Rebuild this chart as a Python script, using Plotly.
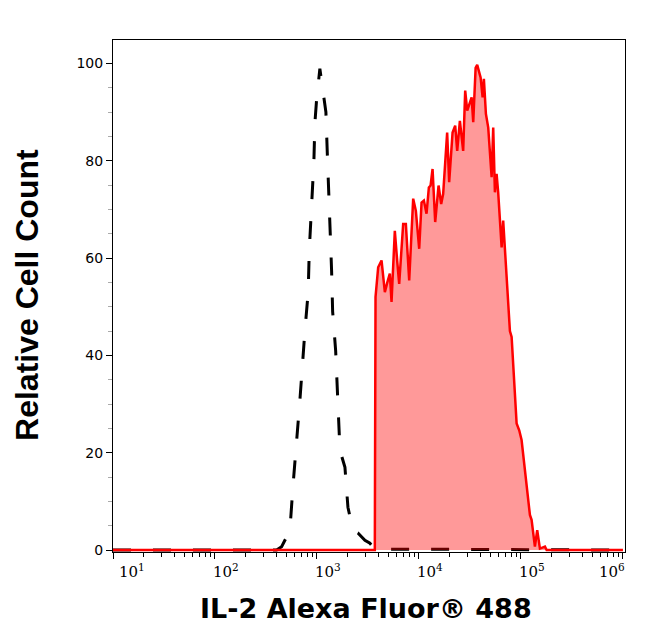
import math
import plotly.graph_objects as go

# Isotype control (black dashed) histogram
iso_x = [10, 402, 450, 542, 581, 631, 680, 761, 820, 840, 919, 933, 953, 991,
         1067, 1151, 1223, 1260, 1308, 1340, 1391, 1424, 1524, 1616, 1679,
         1880, 2011, 2251, 2518, 2951, 3305, 3700, 1000000]
iso_y = [0, 0, 0.7, 4, 13, 22, 30.8, 45, 53, 61.5, 76, 80, 87.6, 92.5,
         98.9, 93.7, 90, 82, 74, 65.6, 57.4, 49, 41, 28.7, 20.5,
         17, 8.8, 4, 3.5, 2, 1.4, 0.2, 0]

# IL-2 stained (red filled) histogram
il2_x = [10, 3690, 3750, 3981, 4295, 4628, 4895, 5178, 5383, 5797, 6109, 6397,
         7000, 7437, 8017, 8775, 9322, 10050, 10600, 11170, 11860, 12500,
         13000, 13590, 14420, 15560, 16510, 17270, 18890, 19770, 21350, 22650,
         23700, 25180, 27120, 28390, 29720, 32820, 34040, 35920, 37230, 40200,
         42080, 43290, 45320, 47750, 51550, 53450, 55510, 57670, 59800, 64620,
         66940, 72330, 77930, 80980, 90640, 96140, 101400, 122400, 127100,
         137000, 144300, 153400, 171800, 178600, 1000000]
il2_y = [0, 0, 52, 58.1, 59.5, 53, 55, 56.8, 51, 65.6, 59.5, 54.7,
         67, 67, 55.4, 72.2, 69.7, 61.9, 71.4, 71.8, 69.1, 74.5,
         74.9, 78.3, 67.4, 74.9, 71.1, 73.2, 85.8, 75.6, 85.8, 87.2,
         82, 88.2, 82, 94.4, 90.3, 93, 87.9, 99.1, 99.7, 97.1,
         93, 96.8, 89.6, 86.8, 76.6, 86.8, 73.5, 77.3, 73.5, 62.2,
         67.7, 56.1, 45, 43.8, 26, 24.6, 22.6, 7.2, 6.2,
         0.7, 4.1, 0.3, 0.7, 0, 0]

x_tick_vals = [10, 100, 1000, 10000, 100000, 1000000]
x_tick_text = ["10<sup>1</sup>", "10<sup>2</sup>", "10<sup>3</sup>",
               "10<sup>4</sup>", "10<sup>5</sup>", "10<sup>6</sup>"]
y_tick_vals = [0, 20, 40, 60, 80, 100]
y_tick_text = ["0", "20", "40", "60", "80", "100"]

x_title = "IL-2 Alexa Fluor® 488"
y_title = "Relative Cell Count"

fig = go.Figure()
fig.add_trace(go.Scatter(
    x=iso_x, y=iso_y, mode="lines",
    line=dict(color="black", width=3, dash="18px,22px"),
    showlegend=False, hoverinfo="skip"))
fig.add_trace(go.Scatter(
    x=il2_x, y=il2_y, mode="lines", fill="tozeroy",
    fillcolor="rgba(255,0,0,0.4)",
    line=dict(color="#ff0000", width=2.5),
    showlegend=False, hoverinfo="skip"))

annotations = []
n = len(x_tick_vals)
for i, (v, t) in enumerate(zip(x_tick_vals, x_tick_text)):
    shift = 4 if i == 0 else (-26 if i == n - 1 else -4)
    annotations.append(dict(
        x=math.log10(v), xref="x", y=0, yref="paper", yanchor="top",
        xanchor="left", xshift=shift, yshift=-7, showarrow=False, text=t,
        font=dict(family="DejaVu Serif", size=15, color="black")))

annotations.append(dict(
    x=0.495, xref="paper", y=-0.111, yref="paper", xanchor="center",
    yanchor="middle", showarrow=False, text=x_title,
    font=dict(family="DejaVu Sans", size=27, color="black", weight="bold")))
annotations.append(dict(
    x=-0.168, xref="paper", y=0.502, yref="paper", xanchor="center",
    yanchor="middle", showarrow=False, text=y_title, textangle=-90,
    font=dict(family="Liberation Sans", size=32, color="black", weight="bold")))

# the page body adds an 8px offset, so the figure is 8px smaller
fig.update_layout(
    width=638, height=633,
    margin=dict(l=105, r=21, t=32, b=89),
    paper_bgcolor="white", plot_bgcolor="white",
    annotations=annotations,
    xaxis=dict(
        type="log", range=[1, 6.02], showline=True, linecolor="black",
        linewidth=1, mirror=True, ticks="outside", ticklen=6,
        tickcolor="black", tickmode="array", tickvals=x_tick_vals,
        showticklabels=False, showgrid=False, zeroline=False,
        minor=dict(ticks="outside", ticklen=4, tickcolor="black",
                   dtick="D1", showgrid=False)),
    yaxis=dict(
        range=[-0.4, 104.8], showline=True, linecolor="black", linewidth=1,
        mirror=True, ticks="outside", ticklen=6, tickcolor="black",
        tickmode="array", tickvals=y_tick_vals, ticktext=y_tick_text,
        tickfont=dict(family="DejaVu Sans", size=14, color="black"),
        showgrid=False, zeroline=False,
        minor=dict(ticks="outside", ticklen=4, tickcolor="#aaaaaa",
                   dtick=5, tick0=0, showgrid=False)),
)

fig.write_html("out.html")
